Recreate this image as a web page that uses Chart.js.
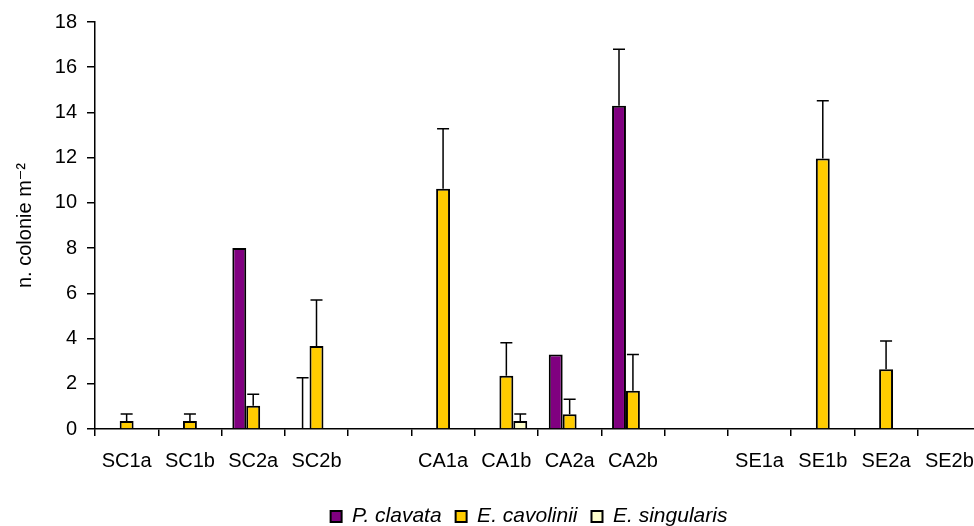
<!DOCTYPE html>
<html>
<head>
<meta charset="utf-8">
<script src="https://cdn.jsdelivr.net/npm/chart.js@4"></script>
<style>
  html, body { margin: 0; padding: 0; background: #fff; overflow: hidden; }
</style>
</head>
<body>
<canvas id="coloniesChart" width="990" height="526"></canvas>
<script>
// Sites (empty strings are the gaps between site groups)
const siteLabels = ['SC1a', 'SC1b', 'SC2a', 'SC2b', '', 'CA1a', 'CA1b', 'CA2a', 'CA2b', '', 'SE1a', 'SE1b', 'SE2a', 'SE2b'];

// Mean density (colonies per m2) per species
const pClavata    = [0, 0, 8.0, 0, null, 0, 0, 3.3, 14.3, null, 0, 0, 0, 0];
const eCavolinii  = [0.35, 0.35, 1.03, 3.67, null, 10.62, 2.35, 0.65, 1.69, null, 0, 11.96, 2.64, 0];
const eSingularis = [0, 0, 0, 0, null, 0, 0.35, 0, 0, null, 0, 0, 0, 0];

// Upper error (standard error) per species
const pClavataErr    = [0, 0, 0, 2.27, null, 0, 0, 0, 2.5, null, 0, 0, 0, 0];
const eCavoliniiErr  = [0.31, 0.31, 0.51, 2.04, null, 2.66, 1.47, 0.67, 1.61, null, 0, 2.56, 1.25, 0];
const eSingularisErr = [0, 0, 0, 0, null, 0, 0.31, 0, 0, null, 0, 0, 0, 0];

const yTicks = [0, 2, 4, 6, 8, 10, 12, 14, 16, 18];

const FONT = "'Liberation Sans', Arial, 'DejaVu Sans', sans-serif";

// Draw the upper error bars on top of each bar
const errorBars = {
    id: 'errorBars',
    afterDatasetsDraw(chart) {
        const ctx = chart.ctx;
        const y = chart.scales.y;
        ctx.save();
        ctx.strokeStyle = '#000';
        ctx.lineWidth = 1.5;
        chart.data.datasets.forEach((ds, i) => {
            const meta = chart.getDatasetMeta(i);
            meta.data.forEach((bar, j) => {
                const err = ds.errors[j];
                const v = ds.data[j];
                if (!err || v === null) return;
                const yBase = y.getPixelForValue(v);
                const yTop = y.getPixelForValue(v + err);
                ctx.beginPath();
                ctx.moveTo(bar.x, yBase);
                ctx.lineTo(bar.x, yTop);
                ctx.moveTo(bar.x - 6, yTop);
                ctx.lineTo(bar.x + 6, yTop);
                ctx.stroke();
            });
        });
        ctx.restore();
    }
};

// nudge the legend a little to the left, like the original
const legendShift = {
    id: 'legendShift',
    afterLayout(chart) {
        if (chart.legend) {
            chart.legend.left -= 9;
            chart.legend.right -= 9;
        }
    }
};

const ctx = document.getElementById('coloniesChart').getContext('2d');
new Chart(ctx, {
    type: 'bar',
    data: {
        labels: siteLabels,
        datasets: [{
            label: 'P. clavata',
            data: pClavata,
            errors: pClavataErr,
            backgroundColor: '#800080',
            borderColor: '#000',
            borderWidth: 2
        }, {
            label: 'E. cavolinii',
            data: eCavolinii,
            errors: eCavoliniiErr,
            backgroundColor: '#FFCC00',
            borderColor: '#000',
            borderWidth: 2
        }, {
            label: 'E. singularis',
            data: eSingularis,
            errors: eSingularisErr,
            backgroundColor: '#FFFFCC',
            borderColor: '#000',
            borderWidth: 2
        }]
    },
    plugins: [errorBars, legendShift],
    options: {
        responsive: false,
        animation: false,
        layout: {
            padding: { top: 20, right: 9, bottom: -11, left: 0 }
        },
        datasets: {
            bar: { categoryPercentage: 0.66, barPercentage: 1 }
        },
        plugins: {
            tooltip: { enabled: false },
            legend: {
                display: true,
                position: 'bottom',
                fullSize: false,
                labels: {
                    color: '#000',
                    boxWidth: 11,
                    boxHeight: 11,
                    padding: 14,
                    font: { family: FONT, size: 21, style: 'italic' }
                }
            }
        },
        scales: {
            x: {
                afterFit(scale) { scale.height = 63; },
                border: { display: true, color: '#000', width: 1.5 },
                grid: { display: true, drawOnChartArea: false, drawTicks: true, tickLength: 7, color: '#000', lineWidth: 1.5 },
                ticks: {
                    color: '#000',
                    autoSkip: false,
                    maxRotation: 0,
                    minRotation: 0,
                    padding: 13,
                    font: { family: FONT, size: 20 }
                }
            },
            y: {
                min: 0,
                max: 18,
                afterFit(scale) { scale.width = 95; },
                afterBuildTicks(scale) { scale.ticks = yTicks.map(v => ({ value: v })); },
                border: { display: true, color: '#000', width: 1.5 },
                grid: { display: true, drawOnChartArea: false, drawTicks: true, tickLength: 8, color: '#000', lineWidth: 1.5 },
                ticks: {
                    color: '#000',
                    padding: 10,
                    font: { family: FONT, size: 20 }
                },
                title: {
                    display: true,
                    text: 'n. colonie m\u207B\u00B2',
                    color: '#000',
                    padding: { top: 13, bottom: 0 },
                    font: { family: FONT, size: 20 }
                }
            }
        }
    }
});
</script>
</body>
</html>
